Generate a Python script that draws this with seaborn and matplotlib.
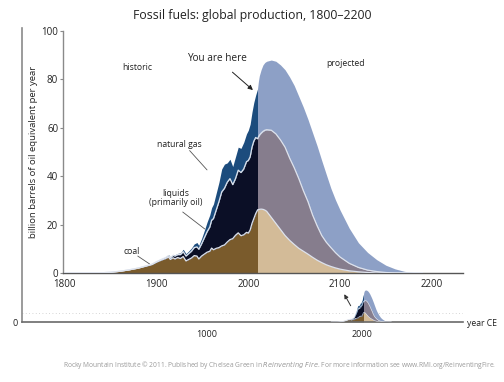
import numpy as np
import pandas as pd
import matplotlib
matplotlib.use("Agg")
import matplotlib.pyplot as plt
import seaborn as sns

# ---------------- data (billion barrels of oil equivalent per year) ----------------
hist_years = [1800, 1820, 1840, 1850, 1860, 1870, 1880, 1890, 1895, 1900, 1905, 1910,
              1913, 1915, 1918, 1920, 1923, 1926, 1929, 1932, 1935, 1938, 1941, 1944,
              1946, 1949, 1952, 1955, 1958, 1960, 1962, 1965, 1968, 1971, 1974, 1977,
              1980, 1983, 1986, 1989, 1992, 1995, 1998, 2000, 2002, 2004, 2006, 2008, 2010]
hist_coal = [0, 0.05, 0.1, 0.3, 0.7, 1.3, 2.0, 3.0, 3.5, 4.5, 5.3, 6.0,
             6.6, 5.6, 6.3, 5.8, 6.4, 6.0, 6.8, 5.0, 5.6, 6.2, 7.2, 7.0,
             5.8, 7.0, 7.8, 8.6, 9.0, 10.3, 9.6, 10.2, 10.5, 11.2, 11.6, 12.8,
             13.8, 14.2, 15.6, 16.6, 15.4, 15.8, 16.8, 16.5, 17.8, 20.5, 22.5, 24.5, 26.0]
hist_liquids = [0, 0, 0, 0, 0, 0, 0.05, 0.1, 0.15, 0.2, 0.3, 0.4,
                0.6, 0.6, 1.0, 1.2, 1.2, 1.6, 2.0, 2.0, 2.4, 2.8, 3.3, 3.8,
                4.0, 5.0, 6.7, 8.4, 10.0, 11.5, 12.9, 15.8, 19.0, 22.3, 23.4, 24.7,
                25.2, 22.3, 23.4, 25.9, 26.1, 27.2, 29.2, 30.0, 30.2, 31.5, 32.0, 31.5, 29.5]
hist_gas = [0, 0, 0, 0, 0, 0, 0, 0, 0.05, 0.2, 0.2, 0.3,
            0.4, 0.4, 0.4, 0.5, 0.5, 0.7, 1.0, 1.0, 1.1, 1.3, 1.5, 1.8,
            1.6, 2.2, 3.0, 4.0, 5.0, 5.2, 6.0, 7.0, 8.0, 9.5, 10.0, 8.0,
            8.0, 7.5, 9.0, 9.5, 10.0, 11.0, 11.5, 12.5, 13.5, 14.5, 16.0, 17.5, 20.5]

proj_years = [2010, 2011, 2012, 2014, 2016, 2018, 2020, 2025, 2030, 2035, 2040, 2045,
              2050, 2055, 2060, 2065, 2070, 2075, 2080, 2085, 2090, 2095, 2100, 2110,
              2120, 2130, 2140, 2150, 2160, 2170, 2180, 2190]
proj_coal = [26.0, 26.2, 26.3, 26.4, 26.3, 26.0, 25.5, 23.0, 20.5, 18.0, 15.5, 13.5,
             11.8, 10.2, 9.0, 7.8, 6.5, 5.3, 4.3, 3.4, 2.7, 2.1, 1.6, 0.9,
             0.5, 0.2, 0, 0, 0, 0, 0, 0]
proj_liquids = [29.5, 30.0, 30.6, 31.4, 32.2, 33.0, 33.7, 36.0, 37.0, 37.0, 36.5, 34.0,
                31.7, 28.8, 25.0, 21.7, 17.5, 14.2, 11.2, 9.3, 7.8, 6.3, 5.0, 3.1,
                1.8, 1.0, 0.6, 0.2, 0, 0, 0, 0]
proj_gas = [20.5, 23.0, 24.6, 26.3, 27.5, 28.0, 28.3, 29.0, 30.0, 31.0, 32.0, 33.5,
            34.0, 34.0, 34.5, 34.0, 34.0, 33.0, 31.0, 28.0, 24.5, 21.8, 19.4, 14.5,
            10.2, 7.3, 4.9, 3.0, 1.7, 0.7, 0.2, 0]

main_xticks = [1800, 1900, 2000, 2100, 2200]
main_yticks = [0, 20, 40, 60, 80, 100]
long_xticks = [1000, 2000]

hist_colors = ["#7a5b2c", "#0b0f26", "#1c4c7d"]   # coal, liquids, gas
proj_colors = ["#d3bb98", "#867d8d", "#8da0c6"]
edge_color = "#dde2ec"

# ---------------- style ----------------
sns.set_style("white")
plt.rcParams["font.family"] = ["Open Sans", "DejaVu Sans"]
text_col = "#222222"

fig = plt.figure(figsize=(5.04, 3.82), dpi=100)
W, H = 504, 382

def frac(x0, y0, x1, y1):
    return [x0 / W, 1 - y1 / H, (x1 - x0) / W, (y1 - y0) / H]

# long time-line axes (behind)
ax2 = fig.add_axes(frac(22, 28, 463, 322))
# main axes
ax = fig.add_axes(frac(63, 31, 463, 273))
ax.patch.set_alpha(0)

def draw_stack(a, lw=0.9, edges=True):
    for years, layers, cols in [(hist_years, [hist_coal, hist_liquids, hist_gas], hist_colors),
                                (proj_years, [proj_coal, proj_liquids, proj_gas], proj_colors)]:
        yrs = np.array(years, dtype=float)
        base = np.zeros_like(yrs)
        tops = []
        for vals, c in zip(layers, cols):
            top = base + np.array(vals, dtype=float)
            a.fill_between(yrs, base, top, color=c, lw=0, zorder=2)
            tops.append(top)
            base = top
        if edges:
            df = pd.DataFrame({"year": np.concatenate([yrs, yrs]),
                               "value": np.concatenate(tops[:2]),
                               "layer": ["coal"] * len(yrs) + ["liquids"] * len(yrs)})
            sns.lineplot(data=df, x="year", y="value", units="layer", estimator=None,
                         color=edge_color, lw=lw, ax=a, zorder=3, legend=False)

draw_stack(ax)
draw_stack(ax2, lw=0.4)

# main axes formatting
ax.set_xlim(1798, 2234)
ax.set_ylim(0, 100)
ax.set_xticks(main_xticks)
ax.set_yticks(main_yticks)
ax.set_xlabel("")
ax.set_ylabel("billion barrels of oil equivalent per year", fontsize=6.8, color=text_col, labelpad=2)
for s in ["top", "right"]:
    ax.spines[s].set_visible(False)
ax.spines["left"].set_color("#8a8a8a")
ax.spines["bottom"].set_color("#555555")
ax.spines["left"].set_linewidth(1.0)
ax.spines["bottom"].set_linewidth(1.0)
ax.tick_params(axis="x", length=0, pad=4, labelsize=7, colors=text_col)
ax.tick_params(axis="y", length=2, width=0.8, pad=1.5, labelsize=7, colors=text_col,
               direction="out", left=True, color="#8a8a8a")

# long axes formatting
ax2.set_xlim(-194, 2652)
ax2.set_ylim(0, 808)
ax2.set_xticks(long_xticks)
ax2.set_yticks([0])
ax2.set_xlabel("")
ax2.set_ylabel("")
for s in ["top", "right"]:
    ax2.spines[s].set_visible(False)
ax2.spines["left"].set_color("#8a8a8a")
ax2.spines["bottom"].set_color("#6a6a6a")
ax2.spines["left"].set_linewidth(1.2)
ax2.spines["bottom"].set_linewidth(1.2)
ax2.tick_params(axis="x", length=0, pad=6, labelsize=6.5, colors=text_col)
ax2.tick_params(axis="y", length=0, pad=3, labelsize=6.5, colors=text_col)
ax2.axhline(25, color="#c8c8c8", lw=0.6, ls=(0, (1, 3)), zorder=1)
ax2.annotate("", xy=(1877, 83), xytext=(1936, 38),
             arrowprops=dict(arrowstyle="-|>", color="#333333", lw=0.7,
                             mutation_scale=6), zorder=5)
fig.text(467 / W, 1 - 323 / H, "year CE", fontsize=6.2, color=text_col, va="center", ha="left")

# annotations main
ann_fs = 6.2
ax.text(1878.5, 85, "historic", fontsize=ann_fs, ha="center", va="center", color=text_col)
ax.text(2106, 86.5, "projected", fontsize=ann_fs, ha="center", va="center", color=text_col)
ax.annotate("You are here", xy=(2005, 75.6), xytext=(1966, 88.5), fontsize=7.2,
            ha="center", va="center", color=text_col,
            arrowprops=dict(arrowstyle="-|>", color="#222222", lw=0.7, mutation_scale=7,
                            shrinkA=5, shrinkB=0))
ax.text(1925, 53, "natural gas", fontsize=ann_fs, ha="center", va="center", color=text_col)
ax.plot([1936, 1955], [50.6, 42.6], color="#555555", lw=0.6)
ax.text(1921, 31, "liquids\n(primarily oil)", fontsize=ann_fs, ha="center", va="center",
        color=text_col, linespacing=1.05)
ax.plot([1928.5, 1952.5], [25.2, 18.2], color="#555555", lw=0.6)
ax.text(1873, 8.8, "coal", fontsize=ann_fs, ha="center", va="center", color=text_col)
ax.plot([1879.5, 1892.5], [7.0, 3.7], color="#555555", lw=0.6)

fig.text(252 / W, 1 - 16 / H, "Fossil fuels: global production, 1800\u20132200",
         fontsize=8.8, ha="center", va="center", color=text_col)

fig.text(496 / W, 1 - 365 / H,
         r"Rocky Mountain Institute © 2011. Published by Chelsea Green in $\it{Reinventing\ Fire}$. "
         r"For more information see www.RMI.org/ReinventingFire.",
         fontsize=4.75, ha="right", va="center", color="#9a9a9a")

fig.savefig("out.png", dpi=100)
